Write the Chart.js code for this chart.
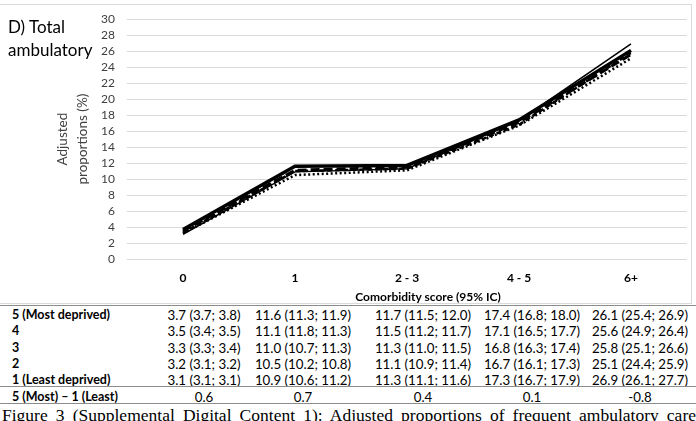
<!DOCTYPE html>
<html>
<head>
<meta charset="utf-8">
<script src="https://cdn.jsdelivr.net/npm/chart.js@4.4.1/dist/chart.umd.min.js"></script>
<style>
  html, body { margin:0; padding:0; background:#fff; }
  body { width:696px; height:421px; position:relative; overflow:hidden; font-family:Lato, sans-serif; color:#000; }
  #frame { position:absolute; left:-2px; top:4px; width:694px; height:300px; border:1px solid #d9d9d9; box-sizing:border-box; }
  #wrap { position:absolute; left:0; top:0; width:696px; height:306px; }
  .panel { position:absolute; left:8px; font-size:17px; line-height:20px; color:#000; }
  #xtitle { position:absolute; top:290px; left:0; width:856px; text-align:center; font-weight:bold; font-size:12px; line-height:14px; color:#000; }
  .hline { position:absolute; left:0; width:696px; height:0; border-top:1.5px solid #8c8c8c; }
  .cell { position:absolute; font-size:13.3px; line-height:16px; white-space:nowrap; color:#000; }
  .lab { left:12px; font-weight:bold; font-size:12.5px; }
  .val { transform:translateX(-50%); }
  #caption { position:absolute; left:2px; top:405px; width:694px; font-family:"Liberation Serif", "Times New Roman", serif; font-size:17.5px; line-height:20px; text-align:justify; text-align-last:justify; white-space:nowrap; color:#000; }
</style>
</head>
<body>
<div id="frame"></div>
<div id="wrap"><canvas id="c" width="696" height="306"></canvas></div>
<div class="panel" style="top:17px">D) Total</div>
<div class="panel" style="top:40px">ambulatory</div>
<div id="xtitle"></div>
<div id="table"></div>
<div id="caption"></div>
<script>
const categories = ['0', '1', '2 - 3', '4 - 5', '6+'];
const seriesNames = ['5 (Most deprived)', '4', '3', '2', '1 (Least deprived)'];
const q5 = [3.7, 11.6, 11.7, 17.4, 26.1];
const q4 = [3.5, 11.1, 11.5, 17.1, 25.6];
const q3 = [3.3, 11.0, 11.3, 16.8, 25.8];
const q2 = [3.2, 10.5, 11.1, 16.7, 25.1];
const q1 = [3.1, 10.9, 11.3, 17.3, 26.9];
const q5ci = ['3.7 (3.7; 3.8)', '11.6 (11.3; 11.9)', '11.7 (11.5; 12.0)', '17.4 (16.8; 18.0)', '26.1 (25.4; 26.9)'];
const q4ci = ['3.5 (3.4; 3.5)', '11.1 (11.8; 11.3)', '11.5 (11.2; 11.7)', '17.1 (16.5; 17.7)', '25.6 (24.9; 26.4)'];
const q3ci = ['3.3 (3.3; 3.4)', '11.0 (10.7; 11.3)', '11.3 (11.0; 11.5)', '16.8 (16.3; 17.4)', '25.8 (25.1; 26.6)'];
const q2ci = ['3.2 (3.1; 3.2)', '10.5 (10.2; 10.8)', '11.1 (10.9; 11.4)', '16.7 (16.1; 17.3)', '25.1 (24.4; 25.9)'];
const q1ci = ['3.1 (3.1; 3.1)', '10.9 (10.6; 11.2)', '11.3 (11.1; 11.6)', '17.3 (16.7; 17.9)', '26.9 (26.1; 27.7)'];
const diffLabel = '5 (Most) \u2013 1 (Least)';
const diffValues = ['0.6', '0.7', '0.4', '0.1', '-0.8'];
const yTitle = ['Adjusted', 'proportions (%)'];
const xTitle = 'Comorbidity score (95% IC)';
const captionText = 'Figure 3 (Supplemental Digital Content 1): Adjusted proportions of frequent ambulatory care';

const styles = [
  { borderWidth: 3.5, borderDash: [] },
  { borderWidth: 3, borderDash: [9, 4] },
  { borderWidth: 2.5, borderDash: [5, 3] },
  { borderWidth: 2.5, borderDash: [2, 2.5] },
  { borderWidth: 1.5, borderDash: [] }
];
const allSeries = [q5, q4, q3, q2, q1];

new Chart(document.getElementById('c'), {
  type: 'line',
  data: {
    labels: categories,
    datasets: allSeries.map((d, i) => ({
      label: seriesNames[i],
      data: d,
      borderColor: '#000',
      backgroundColor: '#000',
      borderWidth: styles[i].borderWidth,
      borderDash: styles[i].borderDash,
      pointRadius: 0,
      tension: 0,
      fill: false
    }))
  },
  options: {
    responsive: false,
    animation: false,
    layout: { padding: { top: 17, right: 9, left: 0, bottom: 0 } },
    plugins: { legend: { display: false }, tooltip: { enabled: false } },
    scales: {
      x: {
        offset: true,
        grid: { display: false, drawTicks: false },
        border: { display: false },
        ticks: { color: '#000', padding: 12, font: { family: 'Lato', size: 12, weight: 'bold' } },
        afterFit(s) { s.height = 47; }
      },
      y: {
        min: 0, max: 30,
        ticks: { stepSize: 2, autoSkip: false, color: '#404040', padding: 12, font: { family: 'Lato', size: 12 } },
        grid: { color: '#d9d9d9', lineWidth: 1, drawTicks: false },
        border: { display: false },
        title: {
          display: true, text: yTitle, color: '#404040',
          font: { family: 'Lato', size: 13.5, lineHeight: '20px' },
          padding: { top: 53, bottom: 0 }
        },
        afterFit(s) { s.width = 127; }
      }
    }
  }
});

document.getElementById('xtitle').textContent = xTitle;
document.getElementById('caption').textContent = captionText;

const colCenters = [204, 303, 423, 532, 640];
const rowCenters = [314.5, 331, 347.5, 364, 380];
const tbl = document.getElementById('table');
function addCell(text, cls, x, yc) {
  const d = document.createElement('div');
  d.className = 'cell ' + cls;
  d.textContent = text;
  d.style.top = (yc - 8) + 'px';
  if (x !== null) d.style.left = x + 'px';
  tbl.appendChild(d);
}
const ciRows = [q5ci, q4ci, q3ci, q2ci, q1ci];
ciRows.forEach((row, r) => {
  addCell(seriesNames[r], 'lab', null, rowCenters[r]);
  row.forEach((t, c) => addCell(t, 'val', colCenters[c], rowCenters[r]));
});
addCell(diffLabel, 'lab', null, 397);
diffValues.forEach((t, c) => addCell(t, 'val', colCenters[c], 397));
[306, 387, 404].forEach(y => {
  const l = document.createElement('div');
  l.className = 'hline';
  l.style.top = (y - 0.75) + 'px';
  tbl.appendChild(l);
});
</script>
</body>
</html>
